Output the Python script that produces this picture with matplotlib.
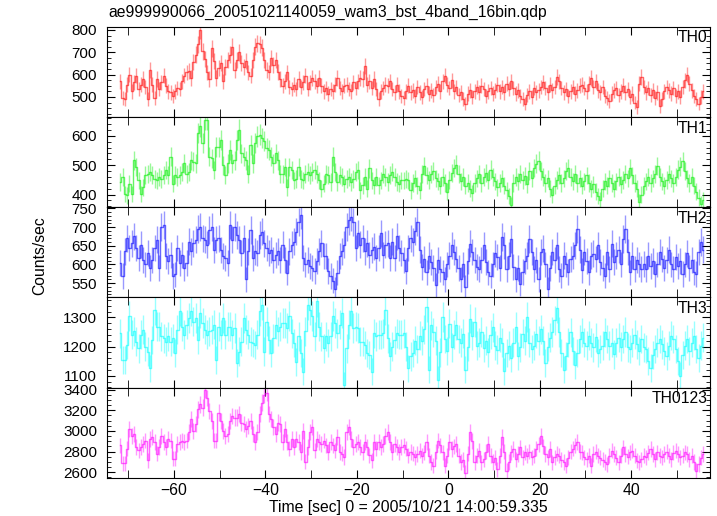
import numpy as np
import matplotlib
matplotlib.use("Agg")
import matplotlib.pyplot as plt
from matplotlib.ticker import MultipleLocator

plt.rcParams['font.family'] = ['Liberation Sans', 'DejaVu Sans']

# 0.5 s bins (16 x 1/32 s), bin centres in seconds from the trigger
BIN = 0.5
time = np.arange(256) * BIN - 71.75

th0 = [
    570, 495, 490, 555, 600, 525, 565, 595,
    535, 555, 580, 545, 490, 620, 555, 495,
    580, 535, 565, 595, 550, 525, 520, 505,
    525, 540, 535, 570, 595, 610, 615, 585,
    655, 690, 735, 800, 705, 670, 610, 580,
    718, 660, 585, 630, 650, 570, 635, 665,
    690, 725, 620, 665, 700, 650, 635, 660,
    610, 595, 665, 725, 740, 735, 720, 665,
    620, 610, 675, 645, 665, 612, 580, 550,
    570, 610, 545, 535, 555, 535, 580, 545,
    565, 595, 535, 565, 585, 570, 550, 585,
    550, 525, 540, 515, 535, 525, 555, 585,
    540, 525, 550, 555, 535, 525, 565, 540,
    570, 585, 580, 640, 555, 570, 540, 580,
    535, 490, 525, 540, 555, 550, 570, 535,
    520, 555, 525, 505, 495, 525, 550, 520,
    530, 505, 545, 520, 500, 535, 550, 515,
    530, 510, 545, 560, 525, 570, 595, 555,
    540, 575, 525, 545, 510, 520, 490, 470,
    515, 530, 500, 525, 545, 520, 550, 535,
    505, 525, 540, 515, 530, 555, 525, 545,
    520, 560, 535, 570, 540, 515, 530, 505,
    490, 470, 510, 525, 500, 540, 520, 530,
    545, 565, 540, 520, 555, 530, 545, 590,
    570, 540, 520, 535, 505, 525, 545, 515,
    530, 550, 555, 540, 525, 560, 585, 545,
    570, 530, 520, 545, 505, 495, 480, 515,
    530, 540, 510, 525, 550, 520, 535, 500,
    515, 475, 455, 560, 590, 545, 520, 540,
    510, 530, 495, 520, 460, 490, 525, 545,
    530, 515, 540, 505, 525, 500, 545, 575,
    600, 560, 530, 505, 490, 470, 500, 525,
]

th1 = [
    443, 460, 402, 397, 437, 402, 517, 494,
    448, 402, 425, 466, 471, 477, 466, 454,
    448, 460, 454, 466, 483, 466, 529, 437,
    466, 460, 466, 477, 506, 471, 477, 517,
    512, 506, 609, 632, 575, 655, 655, 529,
    523, 483, 563, 563, 586, 500, 466, 506,
    552, 506, 517, 586, 621, 540, 529, 517,
    471, 569, 506, 575, 598, 604, 592, 581,
    558, 552, 529, 506, 540, 517, 471, 471,
    494, 425, 494, 483, 448, 454, 494, 454,
    448, 471, 477, 466, 477, 483, 471, 448,
    420, 437, 471, 466, 443, 529, 477, 443,
    466, 460, 437, 454, 460, 443, 454, 477,
    483, 414, 431, 460, 420, 489, 448, 431,
    460, 431, 448, 471, 460, 443, 466, 477,
    460, 443, 437, 448, 448, 454, 448, 414,
    440, 455, 430, 415, 470, 497, 465, 450,
    470, 480, 455, 445, 430, 460, 440, 410,
    450, 475, 490, 502, 470, 445, 460, 430,
    440, 420, 405, 440, 455, 470, 440, 460,
    475, 450, 485, 460, 445, 425, 440, 455,
    430, 415, 395, 365, 440, 460, 445, 470,
    450, 462, 435, 480, 455, 490, 505, 515,
    480, 460, 440, 455, 420, 398, 430, 450,
    465, 440, 455, 480, 491, 460, 445, 470,
    440, 455, 430, 445, 465, 440, 420, 435,
    410, 395, 380, 420, 445, 430, 455, 440,
    420, 445, 460, 435, 450, 470, 455, 491,
    465, 440, 420, 374, 400, 430, 445, 460,
    440, 455, 470, 497, 460, 445, 430, 450,
    470, 455, 440, 460, 485, 495, 514, 480,
    455, 440, 460, 430, 410, 390, 368, 380,
]

th2 = [
    604, 569, 635, 670, 644, 657, 675, 644,
    617, 653, 613, 600, 631, 591, 613, 644,
    666, 591, 701, 705, 622, 609, 626, 569,
    574, 644, 604, 626, 591, 604, 661, 635,
    657, 666, 696, 701, 670, 666, 653, 692,
    701, 639, 666, 670, 639, 622, 617, 604,
    705, 666, 701, 679, 666, 631, 670, 560,
    635, 692, 617, 635, 631, 679, 688, 657,
    644, 631, 639, 613, 626, 635, 613, 653,
    613, 578, 635, 653, 661, 688, 714, 732,
    617, 600, 613, 596, 591, 582, 609, 635,
    657, 622, 622, 582, 569, 556, 534, 578,
    622, 635, 653, 701, 718, 727, 714, 644,
    683, 653, 670, 635, 657, 626, 639, 648,
    617, 644, 683, 626, 653, 657, 617, 661,
    617, 675, 644, 631, 613, 582, 644, 670,
    660, 690, 713, 640, 593, 615, 579, 624,
    606, 590, 544, 611, 588, 579, 561, 600,
    624, 651, 633, 615, 590, 560, 600, 539,
    610, 655, 633, 611, 593, 588, 611, 651,
    606, 579, 570, 600, 630, 620, 590, 673,
    651, 588, 624, 668, 593, 561, 590, 548,
    580, 610, 624, 668, 633, 588, 611, 561,
    633, 642, 600, 535, 590, 633, 611, 651,
    588, 570, 624, 600, 580, 615, 624, 651,
    695, 640, 584, 633, 610, 579, 624, 629,
    615, 651, 606, 590, 570, 633, 588, 655,
    606, 624, 640, 600, 668, 695, 633, 579,
    624, 588, 611, 600, 588, 602, 588, 624,
    597, 610, 575, 600, 633, 615, 590, 611,
    640, 600, 588, 620, 595, 610, 575, 600,
    630, 590, 612, 580, 575, 633, 660, 640,
]

th3 = [
    1246, 1154, 1154, 1206, 1304, 1240, 1252, 1217,
    1194, 1240, 1258, 1200, 1183, 1125, 1223, 1327,
    1269, 1269, 1235, 1229, 1217, 1235, 1217, 1229,
    1177, 1258, 1321, 1269, 1240, 1275, 1298, 1321,
    1286, 1298, 1223, 1315, 1281, 1258, 1240, 1252,
    1258, 1275, 1154, 1269, 1240, 1298, 1240, 1269,
    1269, 1240, 1264, 1143, 1183, 1217, 1298, 1258,
    1240, 1217, 1212, 1206, 1240, 1321, 1344, 1183,
    1286, 1223, 1177, 1229, 1275, 1252, 1269, 1281,
    1281, 1264, 1304, 1246, 1212, 1148, 1235, 1177,
    1114, 1252, 1344, 1327, 1304, 1235, 1355, 1269,
    1235, 1194, 1235, 1212, 1235, 1304, 1281, 1246,
    1275, 1315, 1068, 1194, 1275, 1321, 1264, 1269,
    1264, 1217, 1217, 1206, 1177, 1171, 1114, 1246,
    1235, 1240, 1240, 1246, 1327, 1229, 1166, 1200,
    1223, 1246, 1240, 1240, 1246, 1200, 1125, 1166,
    1179, 1220, 1191, 1238, 1220, 1260, 1337, 1121,
    1273, 1249, 1220, 1086, 1180, 1302, 1226, 1185,
    1279, 1197, 1240, 1273, 1226, 1214, 1244, 1121,
    1200, 1296, 1238, 1284, 1203, 1214, 1250, 1196,
    1220, 1180, 1240, 1266, 1203, 1190, 1230, 1214,
    1115, 1179, 1203, 1162, 1214, 1267, 1168, 1197,
    1244, 1220, 1302, 1214, 1191, 1203, 1244, 1220,
    1260, 1220, 1144, 1200, 1230, 1250, 1290, 1331,
    1250, 1179, 1121, 1168, 1214, 1249, 1185, 1138,
    1179, 1226, 1249, 1214, 1203, 1238, 1214, 1197,
    1232, 1179, 1191, 1203, 1249, 1226, 1203, 1214,
    1173, 1214, 1230, 1200, 1226, 1250, 1197, 1191,
    1214, 1240, 1208, 1185, 1226, 1197, 1191, 1150,
    1127, 1170, 1191, 1214, 1226, 1208, 1185, 1168,
    1203, 1238, 1226, 1191, 1150, 1100, 1170, 1203,
    1226, 1185, 1214, 1238, 1191, 1160, 1203, 1230,
]

th0123 = [
    2860, 2685, 2685, 2828, 3019, 2955, 2971, 2844,
    2812, 2844, 2876, 2907, 2717, 2923, 2939, 2892,
    2780, 2844, 2955, 2892, 2844, 2923, 2907, 2733,
    2733, 2876, 2892, 2907, 2892, 2907, 2987, 3114,
    3003, 3066, 3209, 3257, 3225, 3400, 3320, 3193,
    3098, 2907, 2907, 3177, 3098, 3003, 2955, 2971,
    3098, 3146, 3130, 3130, 3162, 3082, 3066, 3019,
    3050, 3098, 2971, 2892, 2987, 3162, 3273, 3352,
    3368, 3162, 3114, 3035, 2971, 3082, 3066, 2892,
    3019, 2892, 2828, 2923, 2844, 2923, 2892, 2796,
    3003, 2701, 2844, 2987, 3035, 2812, 2923, 2892,
    2876, 2907, 2860, 2796, 2892, 2860, 2812, 2939,
    2796, 2780, 2749, 2987, 3035, 2923, 2844, 2876,
    2892, 2844, 2796, 2892, 2844, 2765, 2717, 2892,
    2828, 2892, 2844, 2876, 2955, 2987, 2892, 2796,
    2876, 2844, 2796, 2844, 2860, 2828, 2765, 2796,
    2780, 2743, 2776, 2809, 2760, 2792, 2890, 2760,
    2700, 2662, 2800, 2907, 2860, 2792, 2662, 2760,
    2890, 2825, 2850, 2874, 2760, 2700, 2720, 2597,
    2780, 2988, 2900, 2695, 2760, 2809, 2695, 2727,
    2800, 2874, 2760, 2700, 2740, 2630, 2760, 2939,
    2800, 2613, 2700, 2792, 2825, 2727, 2776, 2841,
    2743, 2792, 2760, 2800, 2743, 2760, 2830, 2870,
    2955, 2850, 2776, 2743, 2825, 2695, 2743, 2780,
    2760, 2720, 2700, 2662, 2740, 2800, 2830, 2860,
    2890, 2800, 2792, 2743, 2727, 2760, 2662, 2776,
    2800, 2760, 2740, 2720, 2700, 2678, 2760, 2809,
    2776, 2740, 2695, 2760, 2841, 2776, 2750, 2792,
    2809, 2760, 2711, 2695, 2727, 2760, 2743, 2790,
    2825, 2776, 2727, 2792, 2760, 2743, 2776, 2800,
    2760, 2727, 2790, 2809, 2776, 2743, 2760, 2792,
    2776, 2727, 2760, 2700, 2613, 2680, 2740, 2776,
]

series = [th0, th1, th2, th3, th0123]
names = ["TH0", "TH1", "TH2", "TH3", "TH0123"]
colors = ["#ff0000", "#00ee00", "#0000ff", "#00ffff", "#ff00ff"]
ylims = [(410, 814), (357, 664), (512, 753), (1059, 1369), (2546, 3420)]
majors = [100, 100, 50, 100, 200]
minors = [25, 20, 10, 20, 50]

fig, axes = plt.subplots(5, 1, sharex=True, figsize=(7.17, 5.16), dpi=100)
fig.subplots_adjust(left=0.149, right=0.990, top=0.948, bottom=0.074, hspace=0)

for ax, y, name, c, yl, mj, mn in zip(axes, series, names, colors, ylims, majors, minors):
    y = np.asarray(y, dtype=float)
    # Poisson error on a rate measured over one bin
    err = np.sqrt(y * BIN) / BIN
    ax.errorbar(time, y, yerr=err, fmt='none', ecolor=c, elinewidth=1.0, alpha=0.4)
    ax.step(time, y, where='mid', color=c, lw=1.0, alpha=0.6)
    ax.set_ylim(*yl)
    ax.yaxis.set_major_locator(MultipleLocator(mj))
    ax.yaxis.set_minor_locator(MultipleLocator(mn))
    ax.text(0.996, 0.96, name, transform=ax.transAxes, ha='right', va='top', fontsize=11.3)
    ax.tick_params(which='both', direction='in', top=True, right=True, labelsize=11, pad=7)
    ax.tick_params(which='major', length=6)
    ax.tick_params(which='minor', length=3)
    ax.tick_params(axis='x', which='minor', length=6)

ax = axes[-1]
ax.set_xlim(-74.7, 57.2)
ax.xaxis.set_major_locator(MultipleLocator(20))
ax.xaxis.set_minor_locator(MultipleLocator(10))
ax.tick_params(axis='x', pad=4, labelsize=11.3)
ax.set_xlabel("Time [sec] 0 = 2005/10/21 14:00:59.335", fontsize=11.3, labelpad=1)

fig.text(0.056, 0.505, "Counts/sec", rotation=90, ha='center', va='center', fontsize=11.3)
fig.text(108 / 717, 1 - 12 / 516, "ae999990066_20051021140059_wam3_bst_4band_16bin.qdp",
         ha='left', va='center', fontsize=11.3)

fig.savefig("out.png", dpi=100)
